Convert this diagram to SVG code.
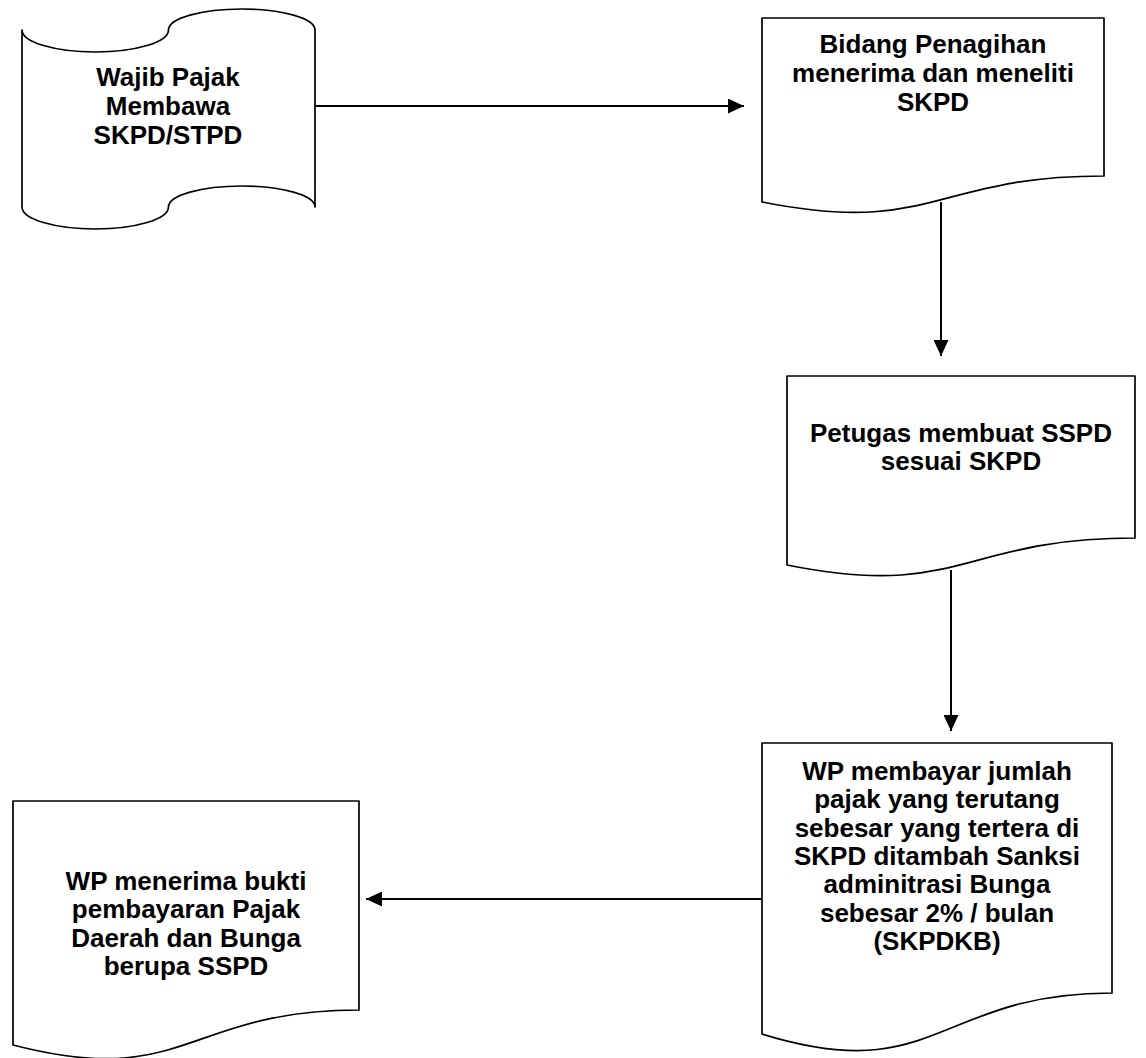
<svg xmlns="http://www.w3.org/2000/svg" width="1146" height="1058" viewBox="0 0 1146 1058">
  <style>
    .shape { fill: #ffffff; stroke: #000000; stroke-width: 1.7; stroke-linejoin: round; }
    .label { font-family: "Liberation Sans", Arial, sans-serif; font-size: 26px; font-weight: bold; fill: #000000; text-anchor: middle; }
    .flow { fill: none; stroke: #000000; stroke-width: 2; }
  </style>
  <defs>
    <marker id="arrow" markerUnits="userSpaceOnUse" markerWidth="16" markerHeight="15" refX="16" refY="7.5" orient="auto">
      <path d="M0,0 L16,7.5 L0,15 Z" fill="#000000"/>
    </marker>
  </defs>
  <rect width="1146" height="1058" fill="#ffffff"/>

  <!-- punched tape: taxpayer brings the assessment letter -->
  <g id="node-wajib-pajak">
    <path class="shape" d="M22,30 A73.25,22 0 0 0 168.5,30 A73.25,21 0 0 1 315,30 V207 A73.25,21 0 0 0 168.5,207 A73.25,22 0 0 1 22,207 Z"/>
    <text class="label" x="168" y="86">Wajib Pajak</text>
    <text class="label" x="168" y="115">Membawa</text>
    <text class="label" x="168" y="144">SKPD/STPD</text>
  </g>

  <!-- document shapes: M x,y H x+w V y+0.802h C (x+w/2, y+0.802h) (x+w/2, y+1.107h) (x, y+0.934h) Z -->
  <g id="node-bidang-penagihan">
    <path class="shape" d="M762,18 H1104 V176 C933,176 933,236 762,202 Z"/>
    <text class="label" x="933" y="53">Bidang Penagihan</text>
    <text class="label" x="933" y="82">menerima dan meneliti</text>
    <text class="label" x="933" y="111">SKPD</text>
  </g>

  <g id="node-petugas">
    <path class="shape" d="M787,376 H1135 V538 C961,538 961,600 787,565 Z"/>
    <text class="label" x="961" y="442">Petugas membuat SSPD</text>
    <text class="label" x="961" y="470">sesuai SKPD</text>
  </g>

  <g id="node-wp-membayar">
    <path class="shape" d="M762,743 H1112 V993 C937,993 937,1088 762,1034 Z"/>
    <text class="label" x="937" y="780">WP membayar jumlah</text>
    <text class="label" x="937" y="808">pajak yang terutang</text>
    <text class="label" x="937" y="837">sebesar yang tertera di</text>
    <text class="label" x="937" y="865">SKPD ditambah Sanksi</text>
    <text class="label" x="937" y="893">adminitrasi Bunga</text>
    <text class="label" x="937" y="922">sebesar 2% / bulan</text>
    <text class="label" x="937" y="950">(SKPDKB)</text>
  </g>

  <g id="node-wp-menerima">
    <path class="shape" d="M13,801 H359 V1010 C186,1010 186,1090 13,1045 Z"/>
    <text class="label" x="186" y="890">WP menerima bukti</text>
    <text class="label" x="186" y="918">pembayaran Pajak</text>
    <text class="label" x="186" y="947">Daerah dan Bunga</text>
    <text class="label" x="186" y="975">berupa SSPD</text>
  </g>

  <g id="connectors">
    <path class="flow" d="M315,106 H744" marker-end="url(#arrow)"/>
    <path class="flow" d="M941,202 V356" marker-end="url(#arrow)"/>
    <path class="flow" d="M951,570 V731" marker-end="url(#arrow)"/>
    <path class="flow" d="M762,899 H366" marker-end="url(#arrow)"/>
  </g>
</svg>
